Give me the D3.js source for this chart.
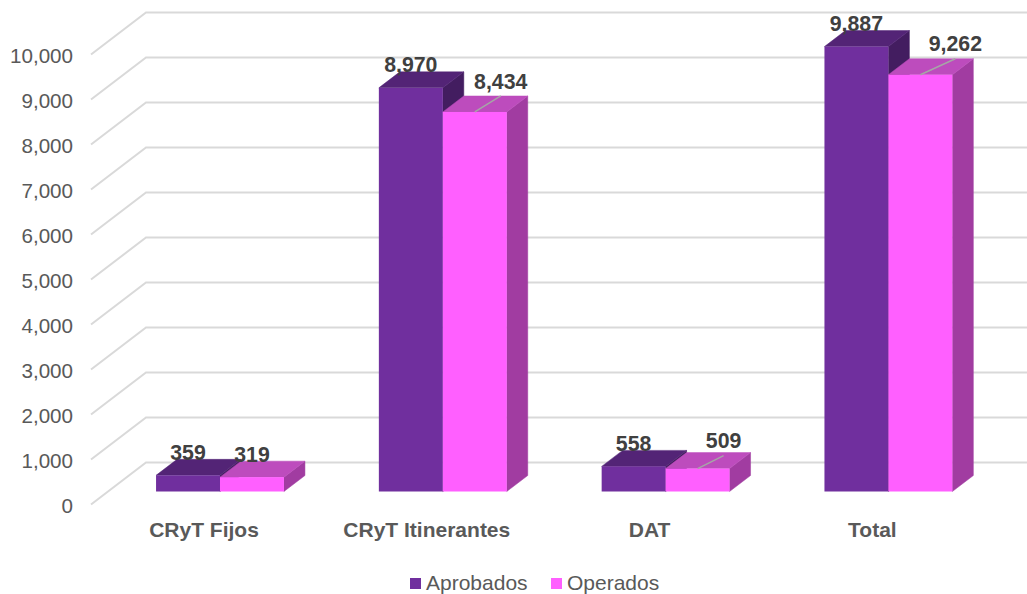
<!DOCTYPE html>
<html><head><meta charset="utf-8">
<script src="https://cdn.jsdelivr.net/npm/d3@7/dist/d3.min.js"></script>
<style>html,body{margin:0;padding:0;background:#fff}svg{display:block}text{font-family:"Liberation Sans",Arial,sans-serif}</style>
</head><body><svg id="c" width="1027" height="594"></svg>
<script>
const categories = ["CRyT Fijos","CRyT Itinerantes","DAT","Total"];
const seriesNames = ["Aprobados","Operados"];
const aprobados = [359,8970,558,9887];
const operados = [319,8434,509,9262];
const tickValues = [0,1000,2000,3000,4000,5000,6000,7000,8000,9000,10000];

const palette = {
  Aprobados:{front:"#702f9e",top:"#532476",side:"#431d60",edge:"#702f9e"},
  Operados:{front:"#ff5fff",top:"#bd4cbd",side:"#a13ca1",edge:"#c85ac8"}
};
const depth = {wallX:55,wallY:-42,barX:21,barY:-16,floor:-13};
// Labels that sit off their bars in the reference, with a leader line
const moved = {"CRyT Itinerantes":{dx:26,dy:-30,ly:-16},"DAT":{dx:26,dy:-28,ly:-13},"Total":{dx:35,dy:-31,ly:-16}};

const svg = d3.select("#c");
const y = d3.scaleLinear().domain([0,10000]).range([504.5,54.5]);
const x = d3.scaleBand().domain(categories).range([108.6,999.8]).paddingInner(0.426).paddingOuter(0.213);
const xs = d3.scaleBand().domain(seriesNames).range([0,x.bandwidth()]);

// gridlines
const grid = svg.append("g");
tickValues.forEach(t=>{
  grid.append("path")
    .attr("d",d3.line()([[91,y(t)],[91+depth.wallX,y(t)+depth.wallY],[1027,y(t)+depth.wallY]]))
    .attr("fill","none").attr("stroke","#d9d9d9").attr("stroke-width",2);
});

// value axis labels
const ax = svg.append("g").attr("transform","translate(74,1)")
  .call(d3.axisLeft(y).tickValues(tickValues).tickSize(0).tickPadding(1).tickFormat(d3.format(",")));
ax.select(".domain").remove();
ax.selectAll("text").attr("fill","#595959").attr("font-size",20.6).attr("font-family","Liberation Sans").attr("dy","0.32em");

// 3D bars
const bars = svg.append("g");
const values = {Aprobados:aprobados,Operados:operados};
const leaders=[],labels=[];
categories.forEach((c,i)=>{
  seriesNames.forEach(s=>{
    const v=values[s][i], p=palette[s], w=xs.bandwidth();
    const x0=x(c)+xs(s), x1=x0+w, b=y(0)+depth.floor, t=y(v)+depth.floor;
    const dx=depth.barX, dy=depth.barY;
    const g=bars.append("g");
    const poly=(pts,fill)=>g.append("polygon").attr("points",pts.join(" ")).attr("fill",fill).attr("stroke",fill).attr("stroke-width",.5);
    poly([[x1,t],[x1+dx,t+dy],[x1+dx,b+dy],[x1,b]],p.side);
    poly([[x0,t],[x0+dx,t+dy],[x1+dx,t+dy],[x1,t]],p.top);
    g.append("rect").attr("x",x0).attr("y",t).attr("width",w).attr("height",b-t).attr("fill",p.front);
    const cx=x0+w/2, m=(s==="Operados"&&moved[c])||null;
    if(m) leaders.push([[cx,t],[cx+m.dx,t+m.ly]]);
    labels.push({x:cx+(m?m.dx:0),y:t+(m?m.dy:-23),v});
  });
});
leaders.forEach(l=>svg.append("path").attr("d",d3.line()(l)).attr("stroke","#a6a6a6").attr("stroke-width",1.5).attr("fill","none"));
svg.append("g").selectAll("text").data(labels).join("text")
  .attr("x",d=>d.x).attr("y",d=>d.y).attr("dy","0.35em").attr("text-anchor","middle")
  .attr("font-size",21.3).attr("font-weight","bold").attr("fill","#404040").text(d=>d3.format(",")(d.v));

// category labels
svg.append("g").selectAll("text").data(categories).join("text")
  .attr("x",d=>x(d)+x.bandwidth()/2-16).attr("y",530).attr("dy","0.35em").attr("text-anchor","middle")
  .attr("font-size",21).attr("font-weight","bold").attr("fill","#595959").text(d=>d);

// legend
const legendX=[410,551];
seriesNames.forEach((s,i)=>{
  svg.append("rect").attr("x",legendX[i]).attr("y",578).attr("width",11).attr("height",11).attr("fill",palette[s].front);
  svg.append("text").attr("x",legendX[i]+16).attr("y",583).attr("dy","0.35em").attr("font-size",21).attr("fill","#595959").text(s);
});
</script></body></html>
